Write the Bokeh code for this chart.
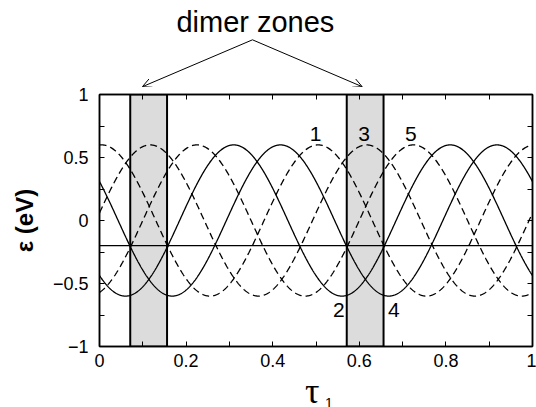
import numpy as np
from bokeh.plotting import figure
from bokeh.layouts import column
from bokeh.models import (Range1d, LinearAxis, FixedTicker, BoxAnnotation, Span,
                          Label, Arrow, OpenHead, CustomLabelingPolicy)
from bokeh.embed import file_html
from bokeh.resources import INLINE

# ---- data ----
curve_names = ["1", "2", "3", "4", "5"]
curve_peak_tau = [0.005, 0.310, 0.117, 0.418, 0.225]   # tau of each band maximum
curve_amplitude = [0.6, 0.6, 0.6, 0.6, 0.6]            # eV
curve_period = 0.5
fermi_level = -0.2
zone_left = [0.071, 0.571]
zone_right = [0.156, 0.656]
x_ticks = [0, 0.2, 0.4, 0.6, 0.8, 1]
x_tick_labels = ["0", "0.2", "0.4", "0.6", "0.8", "1"]
y_ticks = [-1, -0.5, 0, 0.5, 1]
y_tick_labels = ["\u22121", "\u22120.5", "0", "0.5", "1"]
title_text = "dimer zones"
y_title = "\u03b5 (eV)"
x_title = "\u03c4"
x_title_sub = "1"

FONT = "Liberation Sans"
W = 536
LEFT, RIGHT = 99, 4

x_range = Range1d(0, 1)

# ---------------- main plot ----------------
p = figure(width=W, height=287, x_range=x_range, y_range=Range1d(-1, 1), title=None,
           output_backend="svg", toolbar_location=None,
           min_border_left=LEFT, min_border_right=RIGHT, min_border_top=7, min_border_bottom=28)
p.xgrid.visible = False
p.ygrid.visible = False
p.outline_line_color = "black"
p.outline_line_width = 1.5
p.background_fill_color = "white"
p.border_fill_color = "white"

x_minor = [(a + b) / 2 for a, b in zip(x_ticks[:-1], x_ticks[1:])]
y_minor = [(a + b) / 2 for a, b in zip(y_ticks[:-1], y_ticks[1:])]

no_labels = CustomLabelingPolicy(code="""
    for (const i of indices) indices.unset(i)
    return indices
""")


def style_axis(ax, ticks, minor, labels):
    ax.ticker = FixedTicker(ticks=ticks, minor_ticks=minor)
    ax.major_tick_in = 5
    ax.major_tick_out = 0
    ax.minor_tick_in = 5
    ax.minor_tick_out = 0
    ax.axis_line_color = "black"
    ax.axis_line_width = 1.5
    ax.major_tick_line_color = "black"
    ax.minor_tick_line_color = "black"
    ax.major_tick_line_width = 1
    ax.minor_tick_line_width = 1
    if labels is None:
        ax.major_label_text_font_size = "0px"
        ax.major_label_standoff = 0
        ax.major_label_policy = no_labels
    else:
        ax.major_label_overrides = dict(zip(ticks, labels))
        ax.major_label_text_font = FONT
        ax.major_label_text_font_size = "18px"
        ax.major_label_text_color = "black"


xb = p.below[0]
yl = p.left[0]
style_axis(xb, x_ticks, x_minor, x_tick_labels)
xb.major_label_standoff = 7
style_axis(yl, y_ticks, y_minor, y_tick_labels)
yl.major_label_standoff = 11
yl.axis_label = y_title
yl.axis_label_text_font = FONT
yl.axis_label_text_font_style = "bold"
yl.axis_label_text_font_size = "24px"
yl.axis_label_text_color = "black"
yl.axis_label_standoff = 12

xa = LinearAxis()
style_axis(xa, x_ticks, x_minor, None)
p.add_layout(xa, "above")
yr = LinearAxis()
style_axis(yr, y_ticks, y_minor, None)
p.add_layout(yr, "right")

# dimer zones
for l, r in zip(zone_left, zone_right):
    p.add_layout(BoxAnnotation(left=l, right=r, fill_color="#dcdcdc", fill_alpha=1.0,
                               line_color="black", line_alpha=1.0, line_width=2,
                               level="underlay"))

# Fermi level line
p.add_layout(Span(location=fermi_level, dimension="width", line_color="black", line_width=1.3))

# bands
tau = np.linspace(0, 1, 1201)
for name, peak, amp in zip(curve_names, curve_peak_tau, curve_amplitude):
    eps = amp * np.cos(2 * np.pi * (tau - peak) / curve_period)
    dash = "solid" if int(name) % 2 == 0 else "7 4"
    p.line(tau, eps, line_color="black", line_width=1.3, line_dash=dash)

# band labels
label_pos = {"1": (0.499, 0.69), "3": (0.611, 0.69), "5": (0.719, 0.69),
             "2": (0.553, -0.71), "4": (0.680, -0.71)}
for name in curve_names:
    lx, ly = label_pos[name]
    p.add_layout(Label(x=lx, y=ly, text=name, text_align="center", text_baseline="middle",
                       text_font=FONT, text_font_size="21px", text_color="black"))

# ---------------- top strip: title and arrows ----------------
t = figure(width=W, height=87, x_range=x_range, y_range=Range1d(1.0556, 1.746), title=None,
           x_axis_type=None, y_axis_type=None, output_backend="svg", toolbar_location=None,
           min_border=0, min_border_left=LEFT, min_border_right=RIGHT)
t.outline_line_color = None
t.background_fill_color = "white"
t.border_fill_color = "white"
t.add_layout(Label(x=0.36, y=1.579, text=title_text, text_align="center",
                   text_baseline="middle", text_font=FONT, text_font_size="29px",
                   text_color="black"))
for tip_x in [0.0991, 0.6067]:
    t.add_layout(Arrow(x_start=0.3533, y_start=1.434, x_end=tip_x, y_end=1.062,
                       line_color="black", line_width=1,
                       end=OpenHead(size=9, line_color="black", line_width=1)))

# ---------------- bottom strip: x title ----------------
b = figure(width=W, height=33, x_range=x_range, y_range=Range1d(-1.4841, -1.2222), title=None,
           x_axis_type=None, y_axis_type=None, output_backend="svg", toolbar_location=None,
           min_border=0, min_border_left=LEFT, min_border_right=RIGHT)
b.outline_line_color = None
b.background_fill_color = "white"
b.border_fill_color = "white"
b.add_layout(Label(x=0.4912, y=-1.352, text=x_title, text_align="center",
                   text_baseline="middle", text_font="Liberation Serif",
                   text_font_size="36px", text_color="black"))
b.add_layout(Label(x=0.5298, y=-1.45, text=x_title_sub, text_align="center",
                   text_baseline="middle", text_font=FONT, text_font_size="14px",
                   text_color="black"))

layout = column(t, p, b, spacing=0)
open("out.html", "w").write(file_html(layout, INLINE))
